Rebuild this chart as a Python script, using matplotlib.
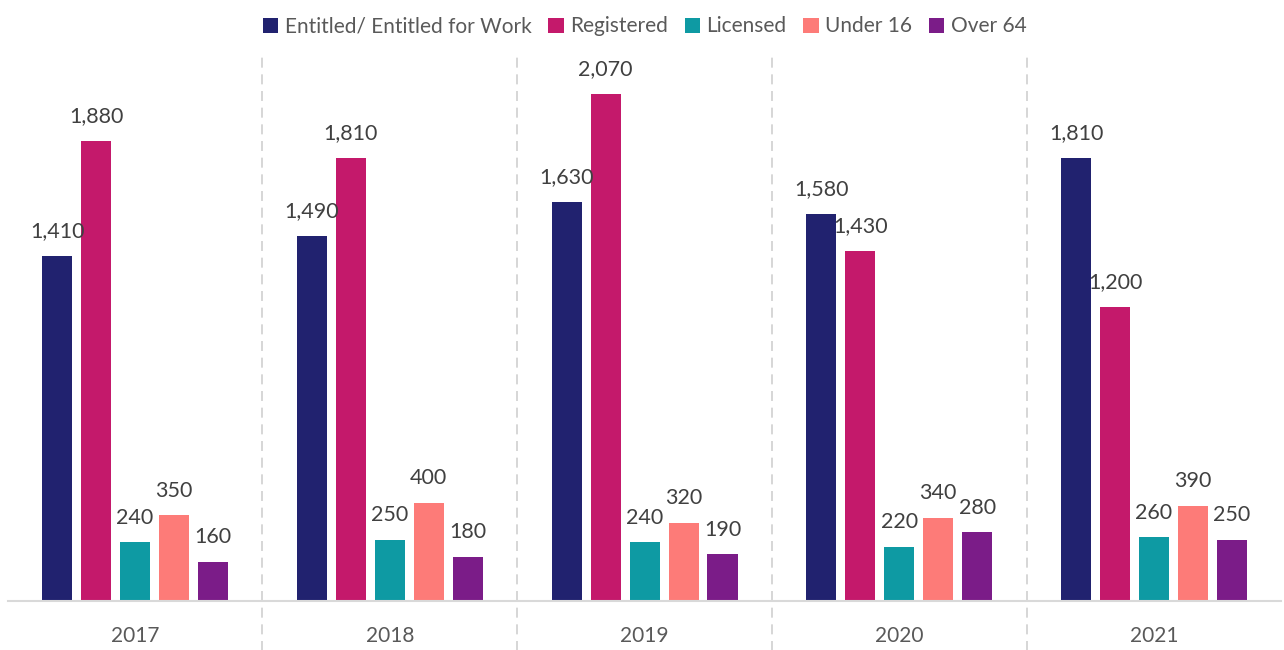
import numpy as np
import matplotlib.pyplot as plt
import matplotlib.transforms as mtransforms

plt.rcParams['font.family'] = ['Lato', 'DejaVu Sans']

years = ['2017', '2018', '2019', '2020', '2021']
series = ['Entitled/ Entitled for Work', 'Registered', 'Licensed', 'Under 16', 'Over 64']
entitled = [1410, 1490, 1630, 1580, 1810]
registered = [1880, 1810, 2070, 1430, 1200]
licensed = [240, 250, 240, 220, 260]
under16 = [350, 400, 320, 340, 390]
over64 = [160, 180, 190, 280, 250]
values = [entitled, registered, licensed, under16, over64]
colors = ['#21226f', '#c4196b', '#0e9aa3', '#fd7b78', '#7b1c88']

fig = plt.figure(figsize=(12.84, 6.5), dpi=100)
ax = fig.add_axes([0.006, 0.0754, 0.992, 0.84])

x = np.arange(len(years))
slot = 0.153
width = 0.118
for i, (name, vals) in enumerate(zip(series, values)):
    pos = x + (i - 2) * slot
    bars = ax.bar(pos, vals, width, color=colors[i], label=name)
    for b, v in zip(bars, vals):
        ax.text(b.get_x() + b.get_width() / 2, v + 60, f'{v:,}', ha='center', va='bottom',
                fontsize=15.5, color='#404040')

ax.set_xlim(-0.5, len(years) - 0.5)
ax.set_ylim(0, 2230)
ax.set_yticks([])
ax.set_xticks(x)
ax.set_xticklabels(years, fontsize=15, color='#595959')
ax.tick_params(axis='x', length=0, pad=18)
for s in ['top', 'right', 'left']:
    ax.spines[s].set_visible(False)
ax.spines['bottom'].set_color('#d9d9d9')
ax.spines['bottom'].set_linewidth(1.5)

trans = mtransforms.blended_transform_factory(ax.transData, ax.transAxes)
for sep in x[:-1] + 0.5:
    ax.plot([sep, sep], [-0.1, 1.0], transform=trans, color='#d0d0d0', linestyle=(0, (6, 4)),
            linewidth=1.2, clip_on=False)

ax.legend(loc='upper center', bbox_to_anchor=(0.5, 1.105), ncol=5, frameon=False, fontsize=15,
          handlelength=0.75, handleheight=0.75, handletextpad=0.3, columnspacing=0.8,
          labelcolor='#595959')

plt.savefig('out.png', dpi=100)
